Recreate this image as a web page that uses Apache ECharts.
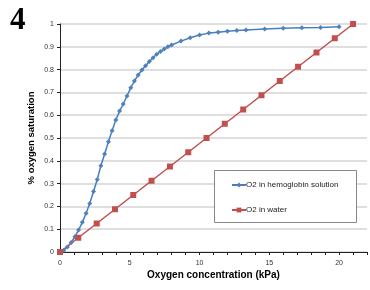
<!DOCTYPE html>
<html>
<head>
<meta charset="utf-8">
<script src="https://cdn.jsdelivr.net/npm/echarts@6/dist/echarts.min.js"></script>
<style>html,body{margin:0;padding:0;background:#fff;}#c{width:370px;height:290px;}</style>
</head>
<body>
<div id="c"></div>
<script>
// Hemoglobin solution: x in kPa, y saturation fraction
const hbX = [0, 0.27, 0.53, 0.8, 1.07, 1.33, 1.6, 1.87, 2.13, 2.4, 2.67, 2.93, 3.2, 3.47, 3.73, 4.0, 4.27, 4.53, 4.8, 5.07, 5.33, 5.6, 5.87, 6.13, 6.4, 6.67, 6.93, 7.2, 7.47, 7.73, 8.0, 8.67, 9.33, 10.0, 10.67, 11.33, 12.0, 12.67, 13.33, 14.67, 16.0, 17.33, 18.67, 20.0];
const hbY = [0, 0.008, 0.022, 0.042, 0.067, 0.096, 0.13, 0.17, 0.213, 0.265, 0.318, 0.378, 0.43, 0.484, 0.532, 0.579, 0.618, 0.649, 0.684, 0.72, 0.75, 0.776, 0.798, 0.817, 0.835, 0.852, 0.867, 0.879, 0.89, 0.9, 0.908, 0.925, 0.94, 0.952, 0.96, 0.964, 0.968, 0.971, 0.974, 0.978, 0.981, 0.984, 0.985, 0.988];
// Water
const waterX = [0, 1.31, 2.63, 3.94, 5.25, 6.56, 7.88, 9.19, 10.5, 11.81, 13.13, 14.44, 15.75, 17.06, 18.38, 19.69, 21.0];
const waterY = [0, 0.0625, 0.125, 0.1875, 0.25, 0.3125, 0.375, 0.4375, 0.5, 0.5625, 0.625, 0.6875, 0.75, 0.8125, 0.875, 0.9375, 1.0];
const yTicks = ['0','0.1','0.2','0.3','0.4','0.5','0.6','0.7','0.8','0.9','1'];
const xTickLabels = [0, 5, 10, 15, 20];

const chart = echarts.init(document.getElementById('c'), null, {renderer: 'canvas'});
const font = '"Liberation Sans", Arial, sans-serif';
chart.setOption({
  animation: false,
  backgroundColor: '#fff',
  title: {
    text: '4', left: 5, top: 0,
    textStyle: {fontFamily: '"Liberation Serif", serif', fontWeight: 'bold', fontSize: 31, color: '#000'}
  },
  grid: {left: 60, right: 0, top: 24, bottom: 38},
  xAxis: {
    type: 'value', min: 0, max: 22, interval: 1,
    name: 'Oxygen concentration (kPa)', nameLocation: 'middle', nameGap: 18,
    nameMoveOverlap: false,
    nameTextStyle: {fontFamily: font, fontWeight: 'bold', fontSize: 10, color: '#000'},
    axisLine: {show: true, lineStyle: {color: '#222', width: 1}},
    axisTick: {show: true, length: 3, lineStyle: {color: '#222'}},
    splitLine: {show: false},
    axisLabel: {
      fontFamily: font, fontSize: 7, color: '#333', margin: 8,
      formatter: v => (xTickLabels.indexOf(v) >= 0 ? String(v) : '')
    }
  },
  yAxis: {
    type: 'value', min: 0, max: 1, interval: 0.1,
    name: '% oxygen saturation', nameLocation: 'middle', nameGap: 24,
    nameMoveOverlap: false,
    nameTextStyle: {fontFamily: font, fontWeight: 'bold', fontSize: 9.5, color: '#000'},
    axisLine: {show: true, lineStyle: {color: '#222', width: 1}},
    axisTick: {show: true, length: 3, lineStyle: {color: '#222'}},
    splitLine: {show: true, lineStyle: {color: '#d4d4d4', width: 1.5}},
    axisLabel: {
      fontFamily: font, fontSize: 7, color: '#333', margin: 6,
      formatter: (v) => yTicks[Math.round(v * 10)]
    }
  },
  graphic: [{
    type: 'rect', left: 214, top: 170, z: 5,
    shape: {width: 142, height: 52},
    style: {fill: '#fff', stroke: '#888', lineWidth: 1}
  }],
  legend: {
    orient: 'vertical', left: 226, top: 176, itemGap: 17, z: 10,
    itemWidth: 14, itemHeight: 6,
    textStyle: {fontFamily: font, fontSize: 8, color: '#222', padding: [0, 0, 0, -5]},
    data: ['O2 in hemoglobin solution', 'O2 in water']
  },
  series: [
    {
      name: 'O2 in hemoglobin solution', type: 'line',
      data: hbX.map((x, i) => [x, hbY[i]]),
      symbol: 'diamond', symbolSize: 5,
      lineStyle: {color: '#4A7EBB', width: 1.5},
      itemStyle: {color: '#4F81BD'}
    },
    {
      name: 'O2 in water', type: 'line',
      data: waterX.map((x, i) => [x, waterY[i]]),
      symbol: 'rect', symbolSize: 6,
      lineStyle: {color: '#C0504D', width: 1.5},
      itemStyle: {color: '#C0504D'}
    }
  ]
});
</script>
</body>
</html>
